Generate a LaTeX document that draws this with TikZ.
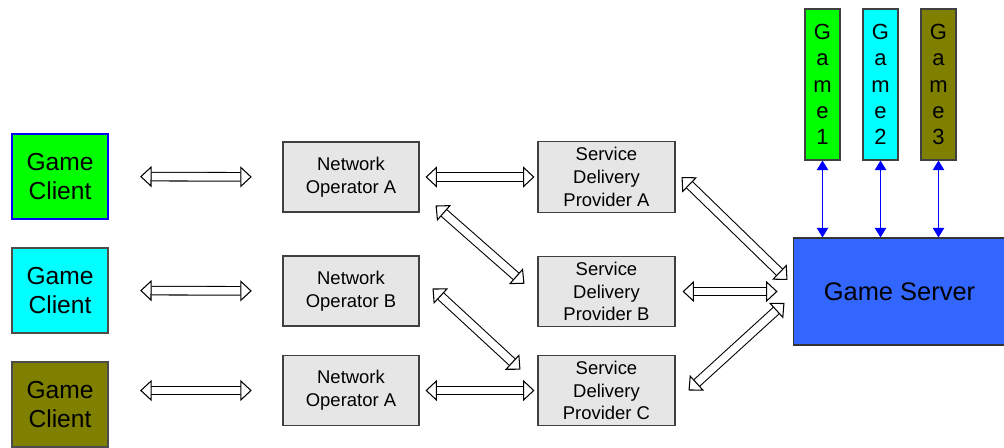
\documentclass[tikz,border=0pt]{standalone}
\usepackage{fontspec}
\setmainfont{Liberation Sans}
\usetikzlibrary{arrows.meta}
\definecolor{clientgreen}{RGB}{0,255,0}
\definecolor{clientcyan}{RGB}{0,255,255}
\definecolor{clientolive}{RGB}{128,128,0}
\definecolor{serverblue}{RGB}{51,102,255}
\definecolor{boxgray}{RGB}{230,230,230}

\begin{document}
\begin{tikzpicture}[x=0.02cm, y=-0.02cm,
  client/.style={draw=black!70, line width=0.6pt, minimum width=1.92cm, minimum height=1.7cm, inner sep=0pt, align=center, font=\fontsize{14}{17}\selectfont},
  operator/.style={draw=black!75, fill=boxgray, line width=0.6pt, minimum width=2.72cm, minimum height=1.4cm, inner sep=0pt, align=center, font=\fontsize{10.5}{13}\selectfont},
  game/.style={draw=black!75, line width=0.6pt, minimum width=0.7cm, minimum height=3.02cm, inner sep=0pt, align=center, font=\fontsize{12.5}{15}\selectfont},
  hollow/.style={draw=black, line width=0.6pt, double=white, double distance=4.3pt,
    {Triangle[length=6.5pt, width=12pt, line width=0.6pt, fill=white]}-{Triangle[length=6.5pt, width=12pt, line width=0.6pt, fill=white]}},
  link/.style={draw=blue, line width=0.7pt, {Triangle[length=5.5pt, width=6.5pt]}-{Triangle[length=5.5pt, width=6.5pt]}}]
\useasboundingbox (0,0) rectangle (1004,448);

\node[client, fill=clientgreen, draw=blue] (c1) at (60,176.5) {Game\\Client};
\node[client, fill=clientcyan] (c2) at (60,290.5) {Game\\Client};
\node[client, fill=clientolive] (c3) at (60,404.5) {Game\\Client};

\node[operator] (noa1) at (351,177) {Network\\Operator A};
\node[operator] (nob) at (351,291) {Network\\Operator B};
\node[operator] (noa2) at (351,390.5) {Network\\Operator A};

\node[operator, minimum width=2.74cm, minimum height=1.41cm] (sdpa) at (606.5,177) {Service\\Delivery\\Provider A};
\node[operator, minimum width=2.74cm, minimum height=1.41cm] (sdpb) at (606.5,291.5) {Service\\Delivery\\Provider B};
\node[operator, minimum width=2.74cm, minimum height=1.41cm] (sdpc) at (606.5,390.5) {Service\\Delivery\\Provider C};

\node[draw=black!80, fill=serverblue, line width=0.6pt, minimum width=4.26cm, minimum height=2.14cm, inner sep=0pt, font=\fontsize{14.5}{18}\selectfont] (gs) at (899.5,291.5) {Game Server};

\node[game, fill=clientgreen] (g1) at (822.5,84.5) {G\\a\\m\\e\\1};
\node[game, fill=clientcyan] (g2) at (880.5,84.5) {G\\a\\m\\e\\2};
\node[game, fill=clientolive] (g3) at (938.5,84.5) {G\\a\\m\\e\\3};

\draw[hollow, shorten <=18pt, shorten >=17.5pt] (c1.east) -- (noa1.west);
\draw[hollow, shorten <=18pt, shorten >=17.5pt] (c2.east) -- (nob.west);
\draw[hollow, shorten <=18pt, shorten >=17.5pt] (c3.east |- noa2.west) -- (noa2.west);

\draw[hollow, shorten <=3.4pt, shorten >=1.7pt] (noa1.east) -- (sdpa.west);
\draw[hollow, shorten <=3.4pt, shorten >=1.7pt] (noa2.east) -- (sdpc.west);
\draw[hollow, shorten <=4pt, shorten >=8.5pt] (sdpb.east) -- (gs.west);

\draw[hollow] ([shift={(16,-7)}]noa1.south east) -- ([shift={(-13,28)}]sdpb.north west);
\draw[hollow] ([shift={(13,33)}]nob.north east) -- ([shift={(-17,15)}]sdpc.north west);
\draw[hollow] ([shift={(6,0)}]sdpa.east) -- ([shift={(-5,-11.5)}]gs.west);
\draw[hollow] ([shift={(13,0)}]sdpc.east) -- ([shift={(-8,11.5)}]gs.west);

\draw[link] (g1.south) -- (g1.south |- gs.north);
\draw[link] (g2.south) -- (g2.south |- gs.north);
\draw[link] (g3.south) -- (g3.south |- gs.north);
\end{tikzpicture}
\end{document}
